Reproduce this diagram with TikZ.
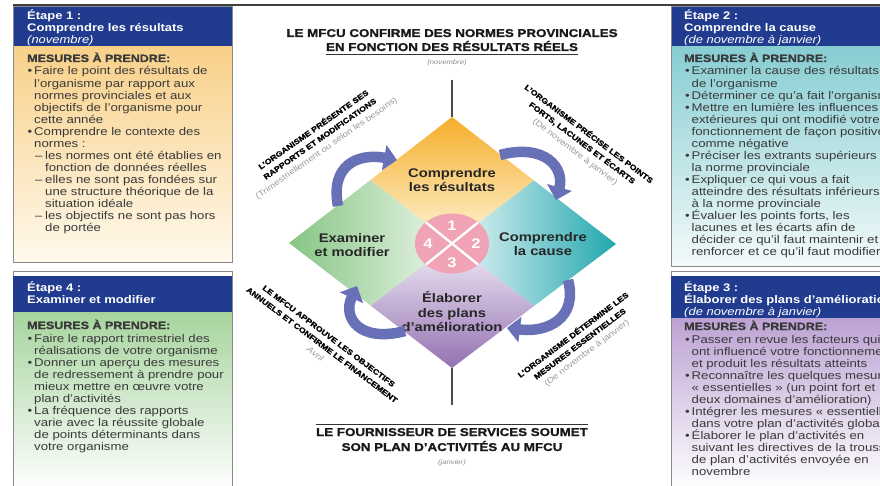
\documentclass[tikz,border=0pt]{standalone}
\usepackage{fontspec}
\setmainfont[FakeStretch=1.18]{Liberation Sans}
\newfontfamily\heavyfont[FakeStretch=1.18,BoldFeatures={FakeBold=1.3}]{Liberation Sans}
\usetikzlibrary{arrows.meta,calc}
\definecolor{hdr}{HTML}{213C8E}
\definecolor{txt}{HTML}{3A3A3A}
\definecolor{frm}{HTML}{8A8A8A}
\definecolor{arr}{HTML}{6870B8}
\definecolor{pinkc}{HTML}{F0A3B4}
\definecolor{orT}{HTML}{F5AE2A}
\definecolor{orC}{HTML}{FFF5D8}
\definecolor{teR}{HTML}{22A7AF}
\definecolor{teC}{HTML}{E9F6F6}
\definecolor{grL}{HTML}{86C584}
\definecolor{grC}{HTML}{EDF6EA}
\definecolor{puB}{HTML}{9371B2}
\definecolor{puC}{HTML}{F3ECF6}
\definecolor{pyT}{HTML}{F8D088}
\definecolor{pyB}{HTML}{FFF9EC}
\definecolor{ptT}{HTML}{86CDD2}
\definecolor{ptB}{HTML}{F4FAFA}
\definecolor{pgT}{HTML}{A6D49D}
\definecolor{pgB}{HTML}{FFFFFF}
\definecolor{ppT}{HTML}{BCA2D3}
\definecolor{ppB}{HTML}{FFFFFF}
\newcommand\PBu[1]{\makebox[6.5pt][l]{\textbullet}#1}
\newcommand\PBc[1]{\hspace*{6.5pt}#1}
\newcommand\PDl[1]{\hspace*{7.5pt}\makebox[10pt][l]{–}#1}
\newcommand\PDc[1]{\hspace*{17.5pt}#1}
\begin{document}
\begin{tikzpicture}[x=1pt,y=-1pt,
  hd/.style={anchor=base west,inner sep=0,text=white,font=\fontsize{11}{12}\selectfont\bfseries},
  hdi/.style={anchor=base west,inner sep=0,text=white,font=\fontsize{11}{12}\selectfont\itshape},
  mes/.style={anchor=base west,inner sep=0,text=txt,font=\fontsize{10.6}{12}\selectfont\heavyfont\bfseries},
  bt/.style={anchor=base west,inner sep=0,text=txt,font=\fontsize{11.2}{12}\selectfont},
  pframe/.style={draw=frm,line width=0.8pt},
  ttl/.style={anchor=base,inner sep=0,text=black!90,font=\fontsize{11.3}{13}\selectfont\heavyfont\bfseries},
  sml/.style={anchor=base,inner sep=0,text=black!45,font=\fontsize{6.5}{8}\selectfont\itshape},
  dlab/.style={align=center,inner sep=0,text=black!85,font=\fontsize{12.5}{14.5}\selectfont\bfseries},
  num/.style={inner sep=0,text=white,font=\fontsize{14}{14}\selectfont\bfseries},
  rot/.style={align=center,inner sep=0,text=black,font=\fontsize{7.5}{11.2}\selectfont\heavyfont\bfseries},
  cyc/.style={draw=arr,line width=10.5pt,-{Triangle[width=25pt,length=13pt]}},
  vl/.style={draw=black!70,line width=1.6pt}
]
\useasboundingbox (0,0) rectangle (880,486);
\clip (0,0) rectangle (880,486);
\fill[white] (0,0) rectangle (880,486);
\draw[black!75,line width=1.2pt] (13,5) -- (880,5);

% ---------- left top panel
\shade[top color=pyT,bottom color=pyB] (13,46) rectangle (232,262);
\fill[hdr] (13,6) rectangle (232,46);
\draw[pframe] (13,6) rectangle (232,262);
\node[hd] (h1a) at (27,20) {Étape 1 :};
\node[hd] (h1b) at (27,32) {Comprendre les résultats};
\node[hdi] (h1c) at (27,44) {(novembre)};
\node[mes] (m1) at (27,62) {MESURES À PRENDRE:};
\foreach \t [count=\i from 0] in {{\PBu{Faire le point des résultats de}},{\PBc{l’organisme par rapport aux}},{\PBc{normes provinciales et aux}},{\PBc{objectifs de l’organisme pour}},{\PBc{cette année}},{\PBu{Comprendre le contexte des}},{\PBc{normes :}},{\PDl{les normes ont été établies en}},{\PDc{fonction de données réelles}},{\PDl{elles ne sont pas fondées sur}},{\PDc{une structure théorique de la}},{\PDc{situation idéale}},{\PDl{les objectifs ne sont pas hors}},{\PDc{de portée}}}
  \node[bt] (pa\i) at (27.5,{75+12.05*\i}) {\t};

% ---------- left bottom panel
\shade[top color=pgT,bottom color=pgB] (13,312) rectangle (232,490);
\draw[pframe] (13,271) rectangle (232,490);
\fill[hdr] (13,276) rectangle (232,312);
\node[hd] (h4a) at (27,291) {Étape 4 :};
\node[hd] (h4b) at (27,303) {Examiner et modifier};
\node[mes] (m4) at (27,329) {MESURES À PRENDRE:};
\foreach \t [count=\i from 0] in {{\PBu{Faire le rapport trimestriel des}},{\PBc{réalisations de votre organisme}},{\PBu{Donner un aperçu des mesures}},{\PBc{de redressement à prendre pour}},{\PBc{mieux mettre en œuvre votre}},{\PBc{plan d’activités}},{\PBu{La fréquence des rapports}},{\PBc{varie avec la réussite globale}},{\PBc{de points déterminants dans}},{\PBc{votre organisme}}}
  \node[bt] (pd\i) at (27.5,{342+12*\i}) {\t};

% ---------- right top panel
\shade[top color=ptT,bottom color=ptB] (671,46) rectangle (890,266);
\fill[hdr] (671,6) rectangle (890,46);
\draw[pframe] (671,6) rectangle (890,266);
\node[hd] (h2a) at (684,20) {Étape 2 :};
\node[hd] (h2b) at (684,32) {Comprendre la cause};
\node[hdi] (h2c) at (684,44) {(de novembre à janvier)};
\node[mes] (m2) at (684,62) {MESURES À PRENDRE:};
\foreach \t [count=\i from 0] in {{\PBu{Examiner la cause des résultats}},{\PBc{de l’organisme}},{\PBu{Déterminer ce qu’a fait l’organisme}},{\PBu{Mettre en lumière les influences}},{\PBc{extérieures qui ont modifié votre}},{\PBc{fonctionnement de façon positive}},{\PBc{comme négative}},{\PBu{Préciser les extrants supérieurs à}},{\PBc{la norme provinciale}},{\PBu{Expliquer ce qui vous a fait}},{\PBc{atteindre des résultats inférieurs}},{\PBc{à la norme provinciale}},{\PBu{Évaluer les points forts, les}},{\PBc{lacunes et les écarts afin de}},{\PBc{décider ce qu’il faut maintenir et}},{\PBc{renforcer et ce qu’il faut modifier}}}
  \node[bt] (pb\i) at (685,{75+12.05*\i}) {\t};

% ---------- right bottom panel
\shade[top color=ppT,bottom color=ppB] (671,318) rectangle (890,490);
\draw[pframe] (671,271) rectangle (890,490);
\fill[hdr] (671,276) rectangle (890,318);
\node[hd] (h3a) at (684,291) {Étape 3 :};
\node[hd] (h3b) at (684,303) {Élaborer des plans d’amélioration};
\node[hdi] (h3c) at (684,315) {(de novembre à janvier)};
\node[mes] (m3) at (684,330) {MESURES À PRENDRE:};
\foreach \t [count=\i from 0] in {{\PBu{Passer en revue les facteurs qui}},{\PBc{ont influencé votre fonctionnement}},{\PBc{et produit les résultats atteints}},{\PBu{Reconnaître les quelques mesures}},{\PBc{« essentielles » (un point fort et}},{\PBc{deux domaines d’amélioration)}},{\PBu{Intégrer les mesures « essentielles »}},{\PBc{dans votre plan d’activités global}},{\PBu{Élaborer le plan d’activités en}},{\PBc{suivant les directives de la trousse}},{\PBc{de plan d’activités envoyée en}},{\PBc{novembre}}}
  \node[bt] (pc\i) at (685,{343+12*\i}) {\t};

% ---------- titles
\node[ttl] (t1) at (452,37) {LE MFCU CONFIRME DES NORMES PROVINCIALES};
\node[ttl] (t2) at (452,51) {EN FONCTION DES RÉSULTATS RÉELS};
\draw[black!80,line width=1pt] ([yshift=-3.5pt]t2.base west) -- ([yshift=-3.5pt]t2.base east);
\node[sml] (t3) at (447,65) {(novembre)};
\node[ttl] (b1) at (452,436) {LE FOURNISSEUR DE SERVICES SOUMET};
\node[ttl] (b2) at (452,451) {SON PLAN D’ACTIVITÉS AU MFCU};
\draw[black!80,line width=1pt] ([yshift=12pt]b1.base west) -- ([yshift=12pt]b1.base east);
\node[sml] (b3) at (452,464) {(janvier)};

% ---------- diamond
\coordinate (T) at (452,117);
\coordinate (R) at (616,244);
\coordinate (B) at (452,368);
\coordinate (L) at (289,243);
\coordinate (C) at (452,243.5);
\coordinate (mTL) at ($(L)!0.5!(T)$);
\coordinate (mTR) at ($(T)!0.5!(R)$);
\coordinate (mBR) at ($(R)!0.5!(B)$);
\coordinate (mBL) at ($(B)!0.5!(L)$);
\coordinate (vtop) at (452,80);
\coordinate (vbot) at (452,405);
\draw[vl] (vtop) -- (T);
\draw[vl] (B) -- (vbot);
\shade[top color=orT,bottom color=orC] (T) -- (mTR) -- (C) -- (mTL) -- cycle;
\shade[left color=teC,right color=teR] (mTR) -- (R) -- (mBR) -- (C) -- cycle;
\shade[top color=puC,bottom color=puB] (C) -- (mBR) -- (B) -- (mBL) -- cycle;
\shade[left color=grL,right color=grC] (mTL) -- (C) -- (mBL) -- (L) -- cycle;

\fill[pinkc] (C) ellipse [x radius=37pt,y radius=30pt];
\draw[white,line width=2.4pt] ($(C)+(-26,-21)$) -- ($(C)+(26,21)$);
\draw[white,line width=2.4pt] ($(C)+(26,-21)$) -- ($(C)+(-26,21)$);
\node[num] (n1) at (452,226) {1};
\node[num] (n2) at (476,244) {2};
\node[num] (n3) at (452,263) {3};
\node[num] (n4) at (428,244) {4};

\node[dlab] (d1) at (452,180) {Comprendre\\les résultats};
\node[dlab] (d2) at (543,244) {Comprendre\\la cause};
\node[dlab] (d3) at (452,312) {Élaborer\\des plans\\d’amélioration};
\node[dlab] (d4) at (352,245) {Examiner\\et modifier};

% ---------- cycle arrows
\draw[cyc] (338,206) .. controls (330,165) and (358,153) .. (397,160);
\draw[cyc] (500,155) .. controls (545,143) and (565,168) .. (556,200);
\draw[cyc] (568,280) .. controls (578,318) and (548,333) .. (507,328);
\draw[cyc] (405,331) .. controls (360,343) and (342,318) .. (357,286);

% ---------- rotated labels
\node[rot,rotate=35] (rtl) at (320,139) {L’ORGANISME PRÉSENTE SES\\RAPPORTS ET MODIFICATIONS\\{\fontsize{8.2}{11.2}\selectfont\mdseries\color{black!40}(Trimestriellement ou selon les besoins)}};
\node[rot,rotate=-37] (rtr) at (582,143) {L’ORGANISME PRÉCISE LES POINTS\\FORTS, LACUNES ET ÉCARTS\\{\fontsize{8.2}{11.2}\selectfont\mdseries\color{black!40}(De novembre à janvier)}};
\node[rot,rotate=37] (rbr) at (580,344) {L’ORGANISME DÉTERMINE LES\\MESURES ESSENTIELLES\\{\fontsize{8.2}{11.2}\selectfont\mdseries\color{black!40}(De novembre à janvier)}};
\node[rot,rotate=-37] (rbl) at (322,345) {LE MFCU APPROUVE LES OBJECTIFS\\ANNUELS ET CONFIRME LE FINANCEMENT\\{\fontsize{8.2}{11.2}\selectfont\mdseries\itshape\color{black!40}Avril}};
\end{tikzpicture}
\end{document}
